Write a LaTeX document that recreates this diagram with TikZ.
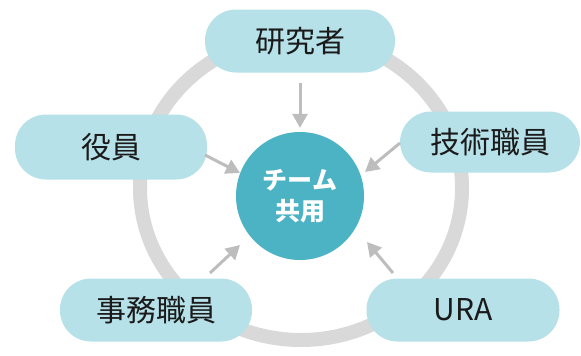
\documentclass[tikz,border=0pt]{standalone}
\usepackage{fontspec}
\setmainfont{Noto Sans CJK JP}
\usetikzlibrary{arrows.meta}
\definecolor{pillc}{HTML}{B6E1E8}
\definecolor{teamc}{HTML}{4BB3C3}
\definecolor{ringc}{HTML}{D9D9D9}
\definecolor{arrc}{HTML}{BDBDBD}
\definecolor{txt}{HTML}{1A1A1A}
\begin{document}
\begin{tikzpicture}[x=1pt,y=-1pt,
  pill/.style={fill=pillc, rounded corners=31pt, minimum height=63pt, inner sep=0pt,
    font=\fontsize{30}{34}\selectfont, text=txt},
  arr/.style={draw=arrc, line width=3pt, -{Triangle[length=14pt,width=15pt]}},
  ring/.style={draw=ringc, line width=14pt}]
\useasboundingbox (0,0) rectangle (581,356);
\draw[ring] (301,188) ellipse [x radius=161pt, y radius=152pt];
\node[pill, minimum width=190pt] (kenkyu) at (300,41) {研究者};
\node[pill, minimum width=192pt, minimum height=65pt] (yakuin) at (111,147) {役員};
\node[pill, minimum width=180pt, minimum height=61pt] (gijutsu) at (490,142) {技術職員};
\node[pill, minimum width=192pt] (jimu) at (156,310) {事務職員};
\node[pill, minimum width=193pt] (ura) at (463,310) {URA};
\node[circle, fill=teamc, minimum size=128pt, inner sep=0pt, align=center, text=white,
  font=\bfseries\fontsize{25}{31}\selectfont] (team) at (300,196) {チーム\\共用};
\draw[arr, shorten <=10pt, shorten >=4pt] (kenkyu) -- (team);
\coordinate (ys) at (205,155); \coordinate (ye) at (240,173);
\coordinate (gs) at (400,143); \coordinate (ge) at (365,172);
\coordinate (js) at (210,273); \coordinate (je) at (240,245);
\coordinate (us) at (393,273); \coordinate (ue) at (367,242);
\draw[arr] (ys) -- (ye);
\draw[arr] (gs) -- (ge);
\draw[arr] (js) -- (je);
\draw[arr] (us) -- (ue);
\end{tikzpicture}
\end{document}
